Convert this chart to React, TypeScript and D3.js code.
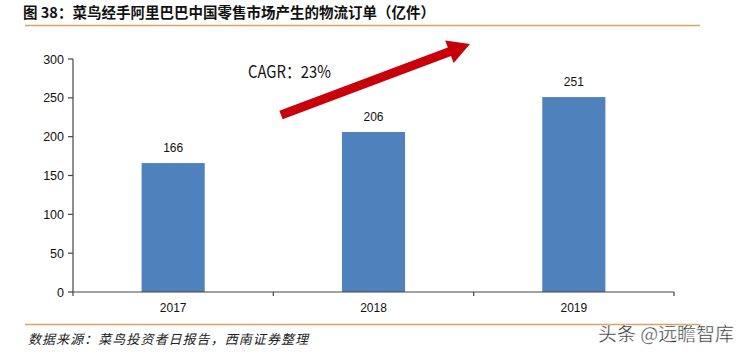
import React from "react";
import * as d3 from "d3";

const categories = ["2017", "2018", "2019"];
const orders = [166, 206, 251];
const yTicks = [0, 50, 100, 150, 200, 250, 300];
const titleText = "图 38：菜鸟经手阿里巴巴中国零售市场产生的物流订单（亿件）";
const sourceText = "数据来源：菜鸟投资者日报告，西南证券整理";
const cagrText = "CAGR：23%";
const watermark = "头条 @远瞻智库";

export default function App() {
  const W = 744, H = 355;
  const left = 73, right = 674, top = 59, bottom = 292;
  const x = d3.scaleBand<string>().domain(categories).range([left, right]).paddingInner(0.685).paddingOuter(0.3425);
  const y = d3.scaleLinear().domain([0, 300]).range([bottom, top]);
  const bandStep = (right - left) / categories.length;

  // arrow geometry
  const ax0 = 281, ay0 = 115, ax1 = 470, ay1 = 44;
  const ang = Math.atan2(ay1 - ay0, ax1 - ax0) * 180 / Math.PI;
  const len = Math.hypot(ax1 - ax0, ay1 - ay0);
  const sw = 4.6, hw = 12, hl = 22;
  const arrowPts = [
    [0, -sw], [len - hl, -sw], [len - hl, -hw], [len, 0], [len - hl, hw], [len - hl, sw], [0, sw],
  ].map(p => p.join(",")).join(" ");

  return (
    <svg width={W} height={H} style={{ position: "absolute", left: 0, top: 0, background: "#fff" }}>
      <text x={23} y={18} fontFamily="'Noto Sans CJK SC', sans-serif" fontWeight="bold" fontSize={14.5}
        textLength={412} lengthAdjust="spacing" fill="#111">{titleText}</text>
      <line x1={25} x2={700} y1={25.5} y2={25.5} stroke="#D6A560" strokeWidth={1.6} />

      {/* bars */}
      {categories.map((c, i) => (
        <rect key={c} x={x(c)} y={y(orders[i])} width={x.bandwidth()} height={bottom - y(orders[i])} fill="#4F81BD" />
      ))}
      {categories.map((c, i) => (
        <text key={"v" + c} x={x(c)! + x.bandwidth() / 2} y={y(orders[i]) - 11} textAnchor="middle"
          fontFamily="'Liberation Sans', Arial, sans-serif" fontSize={12} fill="#111">{orders[i]}</text>
      ))}

      {/* y axis */}
      <line x1={left} x2={left} y1={top} y2={bottom} stroke="#444" strokeWidth={1.2} />
      {yTicks.map(t => (
        <g key={t}>
          <line x1={left - 5} x2={left} y1={y(t)} y2={y(t)} stroke="#444" strokeWidth={1.2} />
          <text x={left - 9} y={y(t) + 4.5} textAnchor="end" fontFamily="'Liberation Sans', Arial, sans-serif"
            fontSize={12.5} fill="#111">{t}</text>
        </g>
      ))}
      {/* x axis */}
      <line x1={left} x2={right} y1={bottom} y2={bottom} stroke="#444" strokeWidth={1.2} />
      {d3.range(categories.length + 1).map(i => (
        <line key={i} x1={left + i * bandStep} x2={left + i * bandStep} y1={bottom} y2={bottom + 4} stroke="#444" strokeWidth={1.2} />
      ))}
      {categories.map(c => (
        <text key={"x" + c} x={x(c)! + x.bandwidth() / 2} y={312} textAnchor="middle"
          fontFamily="'Liberation Sans', Arial, sans-serif" fontSize={12} fill="#111">{c}</text>
      ))}

      {/* CAGR arrow */}
      <polygon points={arrowPts} fill="#C8000A" transform={`translate(${ax0},${ay0}) rotate(${ang})`} />
      <text x={248} y={78} fontFamily="'Noto Sans CJK SC', sans-serif" fontSize={17} textLength={83}
        lengthAdjust="spacingAndGlyphs" fill="#111">{cagrText}</text>

      <line x1={25} x2={700} y1={324.5} y2={324.5} stroke="#D6A560" strokeWidth={1.6} />
      <text x={28} y={344} fontFamily="'Noto Sans CJK SC', sans-serif" fontStyle="italic" fontSize={13}
        textLength={280} lengthAdjust="spacing" fill="#222">{sourceText}</text>
      <text x={598} y={341} fontFamily="'Noto Sans CJK SC', sans-serif" fontSize={19} textLength={136}
        lengthAdjust="spacingAndGlyphs" fill="#333" stroke="#fff" strokeWidth={0.4}>{watermark}</text>
    </svg>
  );
}
